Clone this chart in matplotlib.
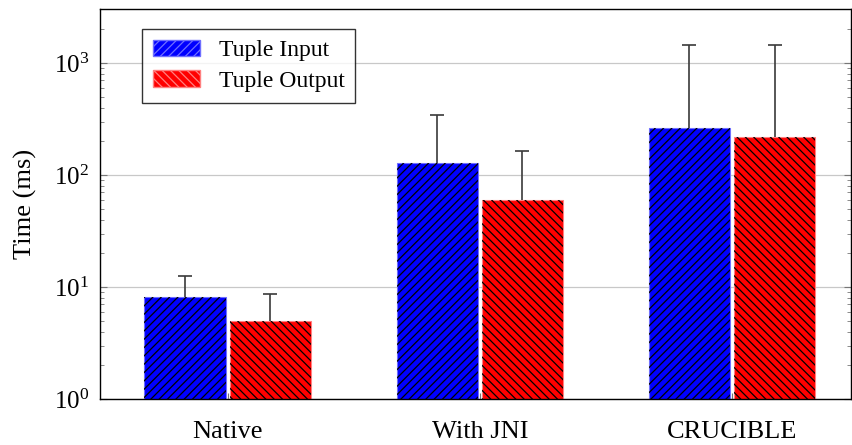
import numpy as np
import matplotlib.pyplot as plt
from matplotlib.patches import Patch
from matplotlib.ticker import LogLocator

plt.rcParams['font.family'] = ['Liberation Serif', 'DejaVu Serif']
plt.rcParams['mathtext.fontset'] = 'cm'
plt.rcParams['hatch.linewidth'] = 0.9

# Mean times and upper error (top of whisker) per configuration
categories = ['Native', 'With JNI', 'CRUCIBLE']
input_mean = [8.1, 128, 263]
input_top = [12.5, 343, 1450]
output_mean = [5.0, 60, 218]
output_top = [8.6, 165, 1435]

x = np.arange(len(categories))
w = 0.322
off = w / 2 + 0.008

fig = plt.figure(figsize=(8.52, 4.45), dpi=100)
ax = fig.add_axes([100 / 852, 46 / 445, 751 / 852, 390 / 445])
ax.set_yscale('log')
ax.set_ylim(1, 3030)
ax.set_xlim(-0.506, 2.472)

series = [
    (x - off, input_mean, input_top, 'blue', '#6f6fff', '////', 'Tuple Input'),
    (x + off, output_mean, output_top, 'red', '#ff8080', '\\\\\\\\', 'Tuple Output'),
]
handles = []
for pos, mean, top, col, edge, hatch, label in series:
    mean = np.array(mean)
    top = np.array(top)
    ax.bar(pos, mean, w, color=col, edgecolor=edge, linewidth=0.8, zorder=2)
    ax.bar(pos, mean, w, fill=False, hatch=hatch, edgecolor='black', linewidth=0, zorder=3)
    eb = ax.errorbar(pos, mean, yerr=[np.zeros_like(mean), top - mean], fmt='none',
                     ecolor='#3a3a3a', elinewidth=1.2, capsize=5, capthick=1.2, zorder=4)
    # only the upper whisker gets a cap
    eb[1][0].set_visible(False)
    handles.append(Patch(facecolor=col, edgecolor=edge, hatch=hatch, label=label))

ax.yaxis.set_major_locator(LogLocator(base=10))
ax.yaxis.set_minor_locator(LogLocator(base=10, subs=np.arange(2, 10)))
ax.grid(axis='y', which='major', color='#c8c8c8', linewidth=0.9, zorder=0)
ax.set_axisbelow(True)

ax.set_xticks(x)
ax.set_xticklabels(categories, fontsize=19)
ax.tick_params(axis='x', direction='in', length=4, color='#777777', pad=16)
ax.tick_params(axis='y', which='both', direction='in', right=True, labelsize=18,
               color='#777777', pad=8)
ax.tick_params(axis='y', which='major', length=5)
ax.tick_params(axis='y', which='minor', length=3)
ax.set_ylabel('Time (ms)', fontsize=19, labelpad=12)

for s in ax.spines.values():
    s.set_linewidth(1.0)

leg = ax.legend(handles=handles, loc='upper left', bbox_to_anchor=(0.056, 0.949),
                borderaxespad=0, fontsize=17, frameon=True, fancybox=False,
                edgecolor='black', handlelength=2.0, handleheight=0.7,
                handletextpad=0.8, borderpad=0.45, labelspacing=0.4)
leg.get_frame().set_linewidth(1.0)

fig.savefig('out.png', dpi=100)
